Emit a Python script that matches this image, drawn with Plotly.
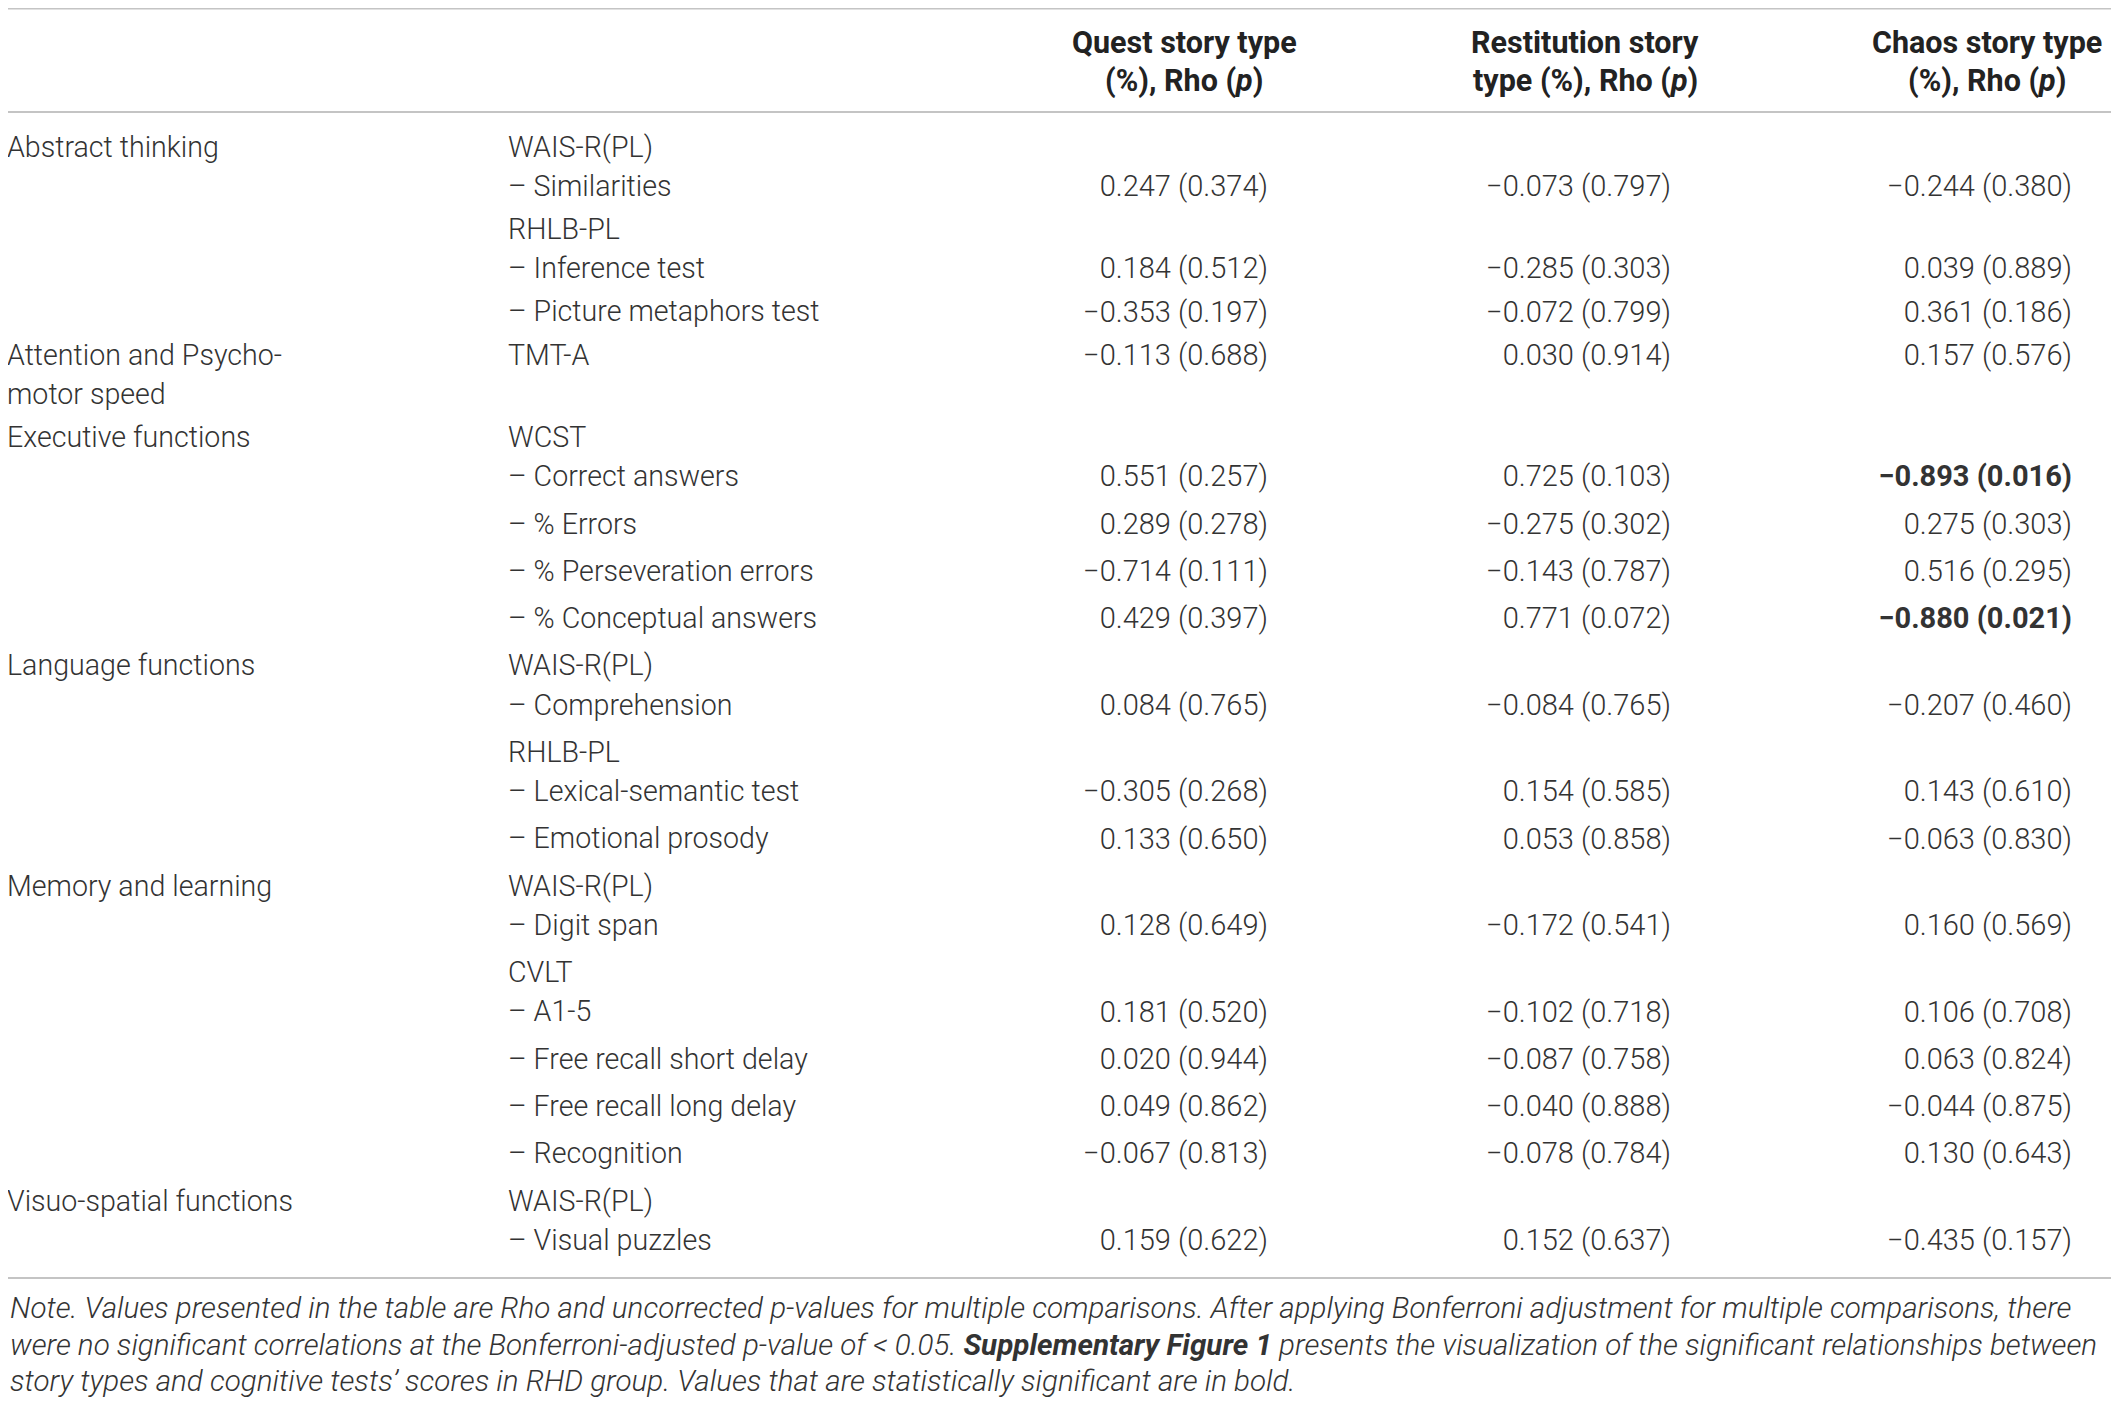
import plotly.graph_objects as go

# correlation of story types with cognitive test scores (RHD group)
domains = ["Abstract thinking", "", "", "", "", "Attention and Psycho-", "motor speed",
           "Executive functions", "", "", "", "", "Language functions", "", "", "", "",
           "Memory and learning", "", "", "", "", "", "", "Visuo-spatial functions", ""]
tests = ["WAIS-R(PL)", "– Similarities", "RHLB-PL", "– Inference test", "– Picture metaphors test",
         "TMT-A", "", "WCST", "– Correct answers", "– % Errors", "– % Perseveration errors",
         "– % Conceptual answers", "WAIS-R(PL)", "– Comprehension", "RHLB-PL",
         "– Lexical-semantic test", "– Emotional prosody", "WAIS-R(PL)", "– Digit span", "CVLT",
         "– A1-5", "– Free recall short delay", "– Free recall long delay", "– Recognition",
         "WAIS-R(PL)", "– Visual puzzles"]

quest_rho = [None, 0.247, None, 0.184, -0.353, -0.113, None, None, 0.551, 0.289, -0.714, 0.429, None,
             0.084, None, -0.305, 0.133, None, 0.128, None, 0.181, 0.020, 0.049, -0.067, None, 0.159]
quest_p = [None, 0.374, None, 0.512, 0.197, 0.688, None, None, 0.257, 0.278, 0.111, 0.397, None,
           0.765, None, 0.268, 0.650, None, 0.649, None, 0.520, 0.944, 0.862, 0.813, None, 0.622]
rest_rho = [None, -0.073, None, -0.285, -0.072, 0.030, None, None, 0.725, -0.275, -0.143, 0.771, None,
            -0.084, None, 0.154, 0.053, None, -0.172, None, -0.102, -0.087, -0.040, -0.078, None, 0.152]
rest_p = [None, 0.797, None, 0.303, 0.799, 0.914, None, None, 0.103, 0.302, 0.787, 0.072, None,
          0.765, None, 0.585, 0.858, None, 0.541, None, 0.718, 0.758, 0.888, 0.784, None, 0.637]
chaos_rho = [None, -0.244, None, 0.039, 0.361, 0.157, None, None, -0.893, 0.275, 0.516, -0.880, None,
             -0.207, None, 0.143, -0.063, None, 0.160, None, 0.106, 0.063, -0.044, 0.130, None, -0.435]
chaos_p = [None, 0.380, None, 0.889, 0.186, 0.576, None, None, 0.016, 0.303, 0.295, 0.021, None,
           0.460, None, 0.610, 0.830, None, 0.569, None, 0.708, 0.824, 0.875, 0.643, None, 0.157]

headers = [["Quest story type", "(%), Rho (<i>p</i>)"],
           ["Restitution story", "type (%), Rho (<i>p</i>)"],
           ["Chaos story type", "(%), Rho (<i>p</i>)"]]

note_lines = [
    "Note. Values presented in the table are Rho and uncorrected p-values for multiple comparisons. After applying Bonferroni adjustment for multiple comparisons, there",
    "were no significant correlations at the Bonferroni-adjusted p-value of < 0.05. <b>Supplementary Figure 1</b> presents the visualization of the significant relationships between",
    "story types and cognitive tests’ scores in RHD group. Values that are statistically significant are in bold.",
]

W, H = 2119, 1404
PAD = 8  # page body margin around the plot div
FONT = "Roboto"
TXT = "#333333"
RULE = "#c4c4c4"

# vertical position of every text line: lines inside one cell sit closer
ys = []
y = 149.5
for i in range(len(tests)):
    if i > 0:
        cont = (quest_rho[i - 1] is None and tests[i - 1] != "") or tests[i] == ""
        if cont:
            y += 39.2
        else:
            y += 43.2 if i < 9 else 47.3
    ys.append(y)


def fmt(r, p):
    if r is None:
        return ""
    s = f"{r:.3f} ({p:.3f})".replace("-", "−")
    return f"<b>{s}</b>" if p < 0.05 else s


fig = go.Figure()
font = dict(family=FONT, size=28.6, color=TXT, weight=300)

fig.add_trace(go.Scatter(x=[7] * len(ys), y=ys, text=domains, mode="text",
                         textposition="middle right", textfont=font, hoverinfo="skip"))
fig.add_trace(go.Scatter(x=[508] * len(ys), y=ys, text=tests, mode="text",
                         textposition="middle right", textfont=font, hoverinfo="skip"))
for xr, rr, pp in [(1268, quest_rho, quest_p), (1671, rest_rho, rest_p), (2072, chaos_rho, chaos_p)]:
    fig.add_trace(go.Scatter(x=[xr] * len(ys), y=ys, text=[fmt(r, p) for r, p in zip(rr, pp)],
                             mode="text", textposition="middle left",
                             textfont=dict(font, size=29), hoverinfo="skip"))

for xc, (l1, l2) in zip([1184, 1585, 1987], headers):
    for yy, t in [(42, l1), (81, l2)]:
        fig.add_annotation(x=xc, y=yy, text=f"<b>{t}</b>", showarrow=False, xanchor="center",
                           yanchor="middle", font=dict(family=FONT, size=30.5, color="#222222",
                                                       weight=700))

for yy, t in zip([1308, 1345, 1381], note_lines):
    fig.add_annotation(x=PAD, y=yy, text=f"<i>{t}</i>", showarrow=False, xanchor="left",
                       yanchor="middle", font=dict(family=FONT, size=29.6, color=TXT, weight=300))

for yy, x0 in [(8.5, 0), (112, 7), (1278, 7)]:
    fig.add_shape(type="line", x0=x0, x1=2112, y0=yy, y1=yy, line=dict(color=RULE, width=2))

fig.update_xaxes(range=[PAD, W], visible=False, fixedrange=True)
fig.update_yaxes(range=[H, PAD], visible=False, fixedrange=True)
fig.update_layout(width=W - PAD, height=H - PAD, margin=dict(l=0, r=0, t=0, b=0),
                  paper_bgcolor="white", plot_bgcolor="white", showlegend=False)

fig.write_html("out.html")
